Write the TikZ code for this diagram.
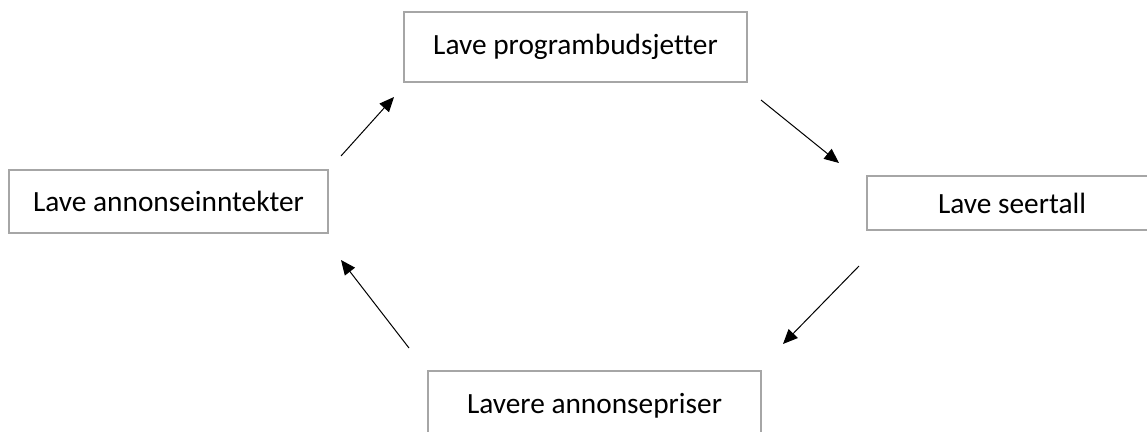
\documentclass[tikz,border=0pt]{standalone}
\usepackage{fontspec}
\setmainfont{Carlito}[Ligatures=NoCommon]
\usetikzlibrary{arrows.meta}
\definecolor{boxgray}{RGB}{166,166,166}

\begin{document}
\begin{tikzpicture}[x=0.75pt, y=-0.75pt]
\useasboundingbox (0, 0) rectangle (1147, 432);

\coordinate (C_top) at (575.5, 47);
\coordinate (C_right) at (1012, 203);
\coordinate (C_bottom) at (594.5, 406);
\coordinate (C_left) at (168.5, 201.5);

\tikzset{BoxStyle/.style = {
 draw = boxgray,
 line width = 0.9pt,
 inner sep = 0pt,
 outer sep = 0pt,
 font = \fontsize{22}{26}\selectfont} }

\node[BoxStyle, minimum width=257.25pt, minimum height=52.5pt] (budsjett) at (C_top) {Lave programbudsjetter};
\node[BoxStyle, minimum width=217.5pt, minimum height=40.5pt] (seertall) at (C_right) {Lave seertall};
\node[BoxStyle, minimum width=249.75pt, minimum height=52.5pt] (priser) at (C_bottom) {Lavere annonsepriser};
\node[BoxStyle, minimum width=239.25pt, minimum height=47.25pt] (inntekter) at (C_left) {Lave annonseinntekter};

\tikzset{ArrowStyle/.style = {line width=0.75pt, -{Triangle[length=11pt, width=9.5pt]}} }

\draw[ArrowStyle] ([shift={(13,-14)}]inntekter.north east) -- ([shift={(-10,15)}]budsjett.south west);
\draw[ArrowStyle] ([shift={(14,18)}]budsjett.south east) -- ([shift={(-28,-13)}]seertall.north west);
\draw[ArrowStyle] ([shift={(-8,36)}]seertall.south west) -- ([shift={(22,-27)}]priser.north east);
\draw[ArrowStyle] ([shift={(-19,-23)}]priser.north west) -- ([shift={(13,27)}]inntekter.south east);

\end{tikzpicture}
\end{document}
